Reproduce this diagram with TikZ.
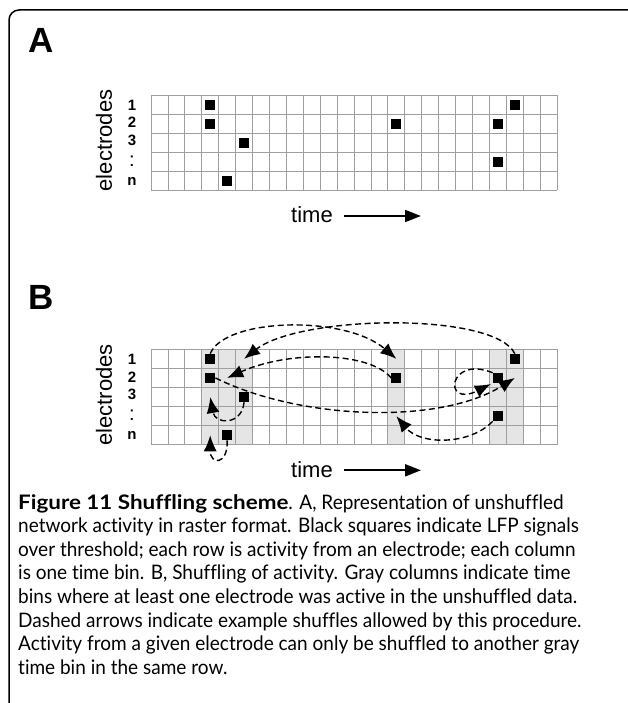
\documentclass[tikz,border=0pt]{standalone}
\usepackage{fontspec}
\setmainfont{Lato}[Ligatures=NoCommon, FakeStretch=0.95,
  BoldFeatures={FakeStretch=1.12}]
\setsansfont{Liberation Sans}
\usetikzlibrary{arrows.meta}

\newcommand\cellw{16.92}
\newcommand\cellh{19.1}

\begin{document}
\begin{tikzpicture}[x=1pt, y=-1pt,
  gridline/.style={draw=gray!75, line width=0.8pt},
  spike/.style={fill=black, inner sep=0pt, minimum size=10pt},
  shuffle/.style={dash pattern=on 6pt off 3.5pt, line width=1.4pt,
    -{Latex[length=16pt, width=13pt]}},
  panel/.style={font=\sffamily\bfseries\fontsize{35}{35}\selectfont},
  axis/.style={font=\sffamily\fontsize{22}{22}\selectfont},
  row/.style={font=\sffamily\bfseries\fontsize{15}{15}\selectfont, inner sep=0pt}]
  \useasboundingbox (0,0) rectangle (627,703);

  % Frame
  \draw[line width=1.5pt, rounded corners=10pt] (9,703) |- (628,10);

  % Panel A: unshuffled raster
  \node[panel] (labA) at (41.5,40.5) {A};
  \begin{scope}[shift={(151,95)}]
    \foreach \c in {0,...,24}
      \draw[gridline] ({\c*\cellw},0) -- ({\c*\cellw},{5*\cellh});
    \foreach \r in {0,...,5}
      \draw[gridline] (0,{\r*\cellh}) -- ({24*\cellw},{\r*\cellh});
    \foreach \c/\r in {3/0,3/1,5/2,4/4,14/1,20/1,20/3,21/0}
      \node[spike] (a-\c-\r) at ({(\c+0.5)*\cellw},{(\r+0.5)*\cellh}) {};
    \node[axis, rotate=90] (elecA) at (-47,45.5) {electrodes};
    \node[row] (a1) at (-19,10) {1};
    \node[row] (a2) at (-19,27.5) {2};
    \node[row] (a3) at (-19,45.5) {3};
    \node[row, font=\sffamily\fontsize{20}{20}\selectfont] (adots) at (-19,66) {:};
    \node[row] (an) at (-19,86) {n};
    \node[axis] (timeA) at (161,120) {time};
    \coordinate (timeAend) at (270,121);
    \draw[line width=2pt, -{Triangle[length=16pt, width=12pt]}]
      (timeA.east) ++(8,1) -- (timeAend);
  \end{scope}

  % Panel B: shuffled raster
  \node[panel] (labB) at (41.5,297) {B};
  \begin{scope}[shift={(151,349.3)}]
    \foreach \c in {3,4,5,14,20,21}
      \fill[gray!20] ({\c*\cellw},0) rectangle ({(\c+1)*\cellw},{5*\cellh});
    \foreach \c in {0,...,24}
      \draw[gridline] ({\c*\cellw},0) -- ({\c*\cellw},{5*\cellh});
    \foreach \r in {0,...,5}
      \draw[gridline] (0,{\r*\cellh}) -- ({24*\cellw},{\r*\cellh});
    \foreach \c/\r in {3/0,3/1,5/2,4/4,14/1,20/1,20/3,21/0}
      \node[spike] (b-\c-\r) at ({(\c+0.5)*\cellw},{(\r+0.5)*\cellh}) {};
    \foreach \c/\r in {14/0,5/0,4/1,21/1,3/2,3/4,14/3}
      \coordinate (t-\c-\r) at ({(\c+0.5)*\cellw},{(\r+0.5)*\cellh});
    \node[axis, rotate=90] (elecB) at (-47,45.5) {electrodes};
    \node[row] (b1) at (-19,10) {1};
    \node[row] (b2) at (-19,27.5) {2};
    \node[row] (b3) at (-19,45.5) {3};
    \node[row, font=\sffamily\fontsize{20}{20}\selectfont] (bdots) at (-19,66) {:};
    \node[row] (bn) at (-19,86) {n};
    \node[axis] (timeB) at (161,120) {time};
    \coordinate (timeBend) at (270,121);
    \draw[line width=2pt, -{Triangle[length=16pt, width=12pt]}]
      (timeB.east) ++(8,1) -- (timeBend);

    % example shuffles
    \draw[shuffle] (b-3-0.north) .. controls +(15,-36) and +(-51,-44) .. (t-14-0);
    \draw[shuffle] (b-21-0.north) .. controls +(-20,-42) and +(56,-44) .. (t-5-0);
    \draw[shuffle] (b-14-1.west) .. controls +(-21,-26) and +(63,-28) .. (t-4-1);
    \draw[shuffle] (b-3-1.east) .. controls +(85,42) and +(-75,47) .. (t-21-1);
    \draw[shuffle] (b-5-2.south) .. controls +(-2,23) and +(5,28) .. (t-3-2);
    \draw[shuffle] (b-4-4.south) .. controls +(1,25) and +(0,30) .. (t-3-4);
    \draw[shuffle, shorten >=2pt] (b-20-1.north west)
      .. controls +(-45,-18) and +(-50,25) .. (b-20-1.south west);
    \draw[shuffle] (b-20-3.south west) .. controls +(-23,24) and +(24,29) .. (t-14-3);
  \end{scope}

  % Caption
  \node[anchor=north west, inner sep=0pt, align=left,
    font=\fontsize{20}{23.6}\selectfont] (caption) at (18,494)
    {\textbf{Figure 11 Shuffling scheme}. A, Representation of unshuffled\\
     network activity in raster format. Black squares indicate LFP signals\\
     over threshold; each row is activity from an electrode; each column\\
     is one time bin. B, Shuffling of activity. Gray columns indicate time\\
     bins where at least one electrode was active in the unshuffled data.\\
     Dashed arrows indicate example shuffles allowed by this procedure.\\
     Activity from a given electrode can only be shuffled to another gray\\
     time bin in the same row.};
\end{tikzpicture}
\end{document}
